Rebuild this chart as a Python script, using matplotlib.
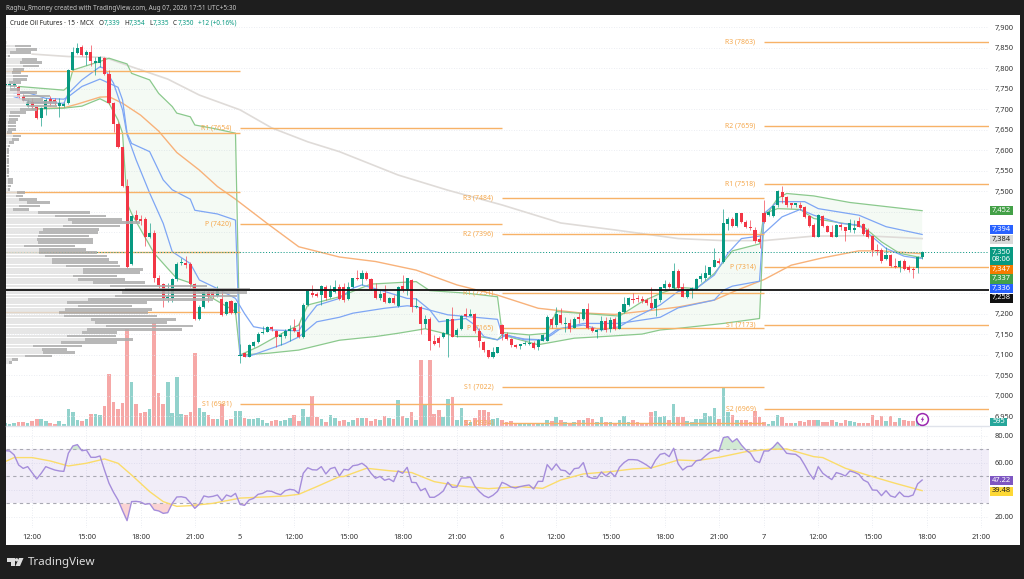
import matplotlib
matplotlib.use("Agg")
import matplotlib.pyplot as plt
from matplotlib.patches import Rectangle, Polygon, Ellipse
import numpy as np

plt.rcParams['font.family'] = ['Noto Sans', 'DejaVu Sans']

# 15 min candles, bar 0 is the 9:00 bar of the 5th
first_bar = -52
opens = [7755,7756,7756,7753,7732,7707,7716,7706,7677,7699,
         7724,7722,7707,7707,7714,7795,7836,7852,7832,7840,
         7812,7812,7824,7786,7714,7664,7607,7512,7322,7441,
         7431,7432,7389,7397,7287,7272,7238,7238,7285,7324,
         7325,7322,7272,7187,7216,7254,7254,7244,7236,7199,
         7232,7203,
         7098,7104,7096,7122,7131,7153,7157,7169,7159,7143,
         7147,7159,7165,7157,7143,7222,7252,7249,7246,7267,
         7241,7254,7267,7267,7236,7265,7289,7285,7301,7285,
         7260,7238,7250,7228,7238,7220,7268,7260,7283,7216,
         7216,7175,7189,7135,7141,7143,7151,7187,7149,7163,
         7199,7195,7200,7159,7131,7111,7094,7106,
         7173,7150,7139,7124,7122,7126,7128,7130,7119,7135,
         7134,7189,7173,7198,7176,7179,7167,7192,7187,7211,
         7167,7155,7161,7184,7163,7187,7164,7204,7222,7236,
         7238,7236,7234,7226,7214,7233,7263,7273,7263,7306,
         7265,7242,7260,7260,7285,7287,7295,7315,7330,7328,
         7419,7431,7415,7446,7425,7413,7405,7383,
         7446,7441,7439,7466,7497,7485,7470,7467,7467,7460,
         7439,7417,7389,7439,7415,7399,7389,7417,7411,7406,
         7406,7427,7419,7406,7390,7356,7356,7333,7344,7317,
         7315,7330,7315,7309,7311,7339]
highs = [7763,7764,7767,7756,7737,7724,7726,7707,7704,7726,
         7732,7728,7726,7716,7797,7852,7860,7855,7844,7856,
         7828,7829,7826,7794,7716,7669,7608,7529,7442,7454,
         7441,7437,7421,7405,7295,7275,7275,7287,7328,7336,
         7341,7328,7275,7222,7262,7258,7262,7268,7258,7232,
         7234,7230,
         7126,7106,7127,7133,7157,7171,7171,7171,7161,7154,
         7163,7173,7189,7177,7226,7257,7271,7254,7271,7271,
         7271,7284,7272,7276,7279,7289,7307,7307,7305,7287,
         7275,7259,7271,7242,7246,7268,7295,7289,7285,7238,
         7220,7198,7192,7149,7146,7157,7189,7216,7165,7198,
         7214,7212,7202,7165,7133,7112,7120,7120,
         7176,7157,7141,7126,7128,7133,7149,7133,7138,7151,
         7198,7193,7218,7214,7193,7187,7192,7202,7211,7228,
         7171,7163,7195,7192,7192,7192,7208,7242,7242,7252,
         7246,7244,7238,7267,7238,7267,7283,7279,7324,7310,
         7275,7260,7267,7287,7299,7320,7315,7360,7336,7455,
         7437,7437,7447,7447,7429,7429,7411,7393,
         7478,7452,7466,7502,7511,7488,7471,7471,7474,7463,
         7441,7421,7444,7441,7417,7417,7419,7421,7413,7431,
         7429,7437,7421,7409,7393,7371,7360,7364,7346,7336,
         7332,7333,7319,7314,7341,7354]
lows = [7751,7753,7753,7724,7716,7704,7699,7675,7659,7685,
        7707,7710,7681,7704,7712,7795,7834,7830,7807,7806,
        7783,7803,7784,7712,7645,7605,7510,7312,7320,7425,
        7417,7366,7385,7279,7263,7218,7230,7230,7281,7320,
        7311,7267,7185,7185,7214,7230,7238,7242,7195,7197,
        7200,7201,
        7080,7094,7096,7120,7130,7151,7155,7159,7119,7124,
        7141,7135,7157,7141,7141,7220,7242,7242,7222,7234,
        7238,7250,7233,7230,7233,7263,7284,7271,7283,7259,
        7236,7234,7228,7226,7224,7216,7254,7246,7206,7214,
        7151,7167,7111,7124,7119,7141,7096,7145,7145,7161,
        7193,7195,7153,7120,7108,7092,7092,7104,
        7137,7137,7120,7118,7114,7124,7124,7114,7111,7133,
        7133,7167,7169,7176,7157,7157,7165,7179,7185,7163,
        7155,7141,7159,7157,7157,7161,7163,7202,7220,7226,
        7230,7228,7222,7211,7195,7230,7260,7263,7260,7260,
        7241,7240,7238,7258,7279,7283,7293,7314,7322,7325,
        7405,7413,7411,7423,7409,7405,7374,7362,
        7421,7439,7437,7462,7470,7462,7458,7460,7454,7435,
        7413,7387,7387,7413,7399,7387,7387,7406,7379,7401,
        7397,7411,7393,7385,7342,7344,7325,7332,7314,7311,
        7303,7307,7303,7289,7301,7335]
closes = [7761,7761,7761,7730,7722,7718,7704,7677,7702,7722,
          7718,7716,7714,7712,7795,7840,7850,7832,7840,7816,
          7818,7826,7786,7714,7664,7607,7512,7315,7440,7429,
          7427,7389,7397,7287,7271,7238,7242,7285,7322,7328,
          7320,7273,7187,7216,7254,7241,7246,7259,7197,7230,
          7203,7226,
          7101,7096,7124,7131,7151,7157,7169,7163,7143,7149,
          7159,7163,7159,7143,7222,7256,7246,7244,7268,7238,
          7257,7267,7236,7234,7267,7287,7285,7301,7285,7260,
          7238,7249,7230,7238,7226,7267,7260,7287,7218,7220,
          7175,7187,7135,7127,7130,7153,7187,7145,7161,7195,
          7195,7199,7159,7133,7111,7096,7108,7119,
          7151,7139,7124,7120,7126,7130,7130,7116,7137,7149,
          7193,7173,7200,7177,7179,7163,7189,7189,7211,7165,
          7159,7161,7184,7161,7185,7163,7206,7224,7238,7234,
          7236,7232,7228,7215,7236,7265,7273,7265,7306,7263,
          7242,7258,7263,7285,7293,7301,7314,7332,7325,7421,
          7431,7415,7446,7425,7411,7409,7379,7375,
          7424,7450,7463,7501,7485,7466,7467,7470,7459,7437,
          7415,7389,7441,7415,7401,7389,7417,7411,7402,7423,
          7409,7413,7395,7389,7356,7354,7330,7344,7318,7315,
          7330,7309,7307,7307,7338,7350]
volumes = [2.7,2,2.7,4.3,4.3,2.7,4.7,6.7,7,5,3,1.7,5.3,2,16.7,14,5.7,5,6.7,12.3,
           12,10.7,19.7,52,24,16.7,22.7,97,44,22,13,14,17,103,33,22,44,13,49,12,
           11,14,73,18,14,11,6.7,7.3,22,6,7.3,15,
           15,7.7,7,7,8,6,2.7,5,6,4.7,5.7,7.7,11,5,17,9.3,30,8.7,7.3,4,
           11,8.3,5.3,6.3,4,5.7,7.7,7.7,8.3,5.3,7.3,5.7,9.7,8,6.7,25.7,10.3,8,14.3,6.3,
           66,21.3,66,12.3,16.3,9,27.3,29.3,6.3,18,5.7,4,8,15.7,16.3,14,7.3,8,
           5.7,3.7,4.7,3.3,2.3,2.3,2.3,2.7,3,2.3,6.3,5.3,8.7,5.7,4,3,3.7,6.3,5.7,8.3,
           7,3.7,9.3,4,3.7,2.3,5.7,10.3,4.3,6.3,4.3,2.7,2.7,13.7,15,9,10.3,5.7,22.3,9,
           8.7,5.3,4.3,6.7,7.3,13.3,10.3,18.3,7.3,39.3,13.7,11.3,6.3,6,5.7,3.7,15.3,9.3,
           4.3,1.7,5.3,11.3,9.3,2.7,2.7,3,5,3.7,6.3,5.7,5.7,4.3,4.3,6,4,2.7,6.3,5,
           3.7,2.7,3.3,3.3,11.3,6.3,10.3,5,10.3,3.7,7.7,5.7,5.3,5.3,5.3,7]
rsi_vals = [69.1,68.9,66,58.5,56,57.3,52.8,48.2,52.4,57.3,56,54.8,54.1,53.8,67.2,72.6,73.6,69.1,69.6,64.2,
            64.2,65.2,54.8,45,38.3,32.6,24.7,17.3,31.4,31.6,31.1,29.4,29.9,25.2,24.5,22.7,23.2,30.1,34.8,35,
            34.3,30.6,26.4,29.6,35.6,34.8,35.3,36.3,32.1,36.3,35.1,37.5,
            29.4,28.6,32.6,33.8,36.8,37.5,39.3,39,37.5,36.5,39.5,40.5,40,37.5,52.4,56.5,55,54.8,57.3,51.9,
            55.8,56.8,50.4,55.3,54.8,58,58.5,59.8,57.3,52.4,48.7,50.1,47.2,48.2,46.2,54.1,52.4,56.8,45.7,45.4,
            39.5,41.2,34.6,34.6,36.6,39.3,45.7,42,42.2,48.9,48.9,49.4,42.7,38.8,35.8,34.3,36.1,39,
            45.7,44.2,42.2,41.5,42.5,43.2,43.7,40.8,46.4,46.4,58.8,54.8,59.3,54.8,54.3,51.4,55.8,56.3,60.3,49.9,
            48.7,48.7,53.3,50.4,53.3,49.9,56.8,60.3,62.5,62.5,62.2,60.5,58.5,56.1,62.2,66.4,67.2,64.7,70.9,59.3,
            54.8,57.3,57.8,61.7,62.2,65.2,67.9,69.6,68.7,78.8,79.5,75.6,78,73.3,69.6,67.2,61.7,60.3,
            68.9,68.9,71.6,75.3,71.6,67.2,66.7,66.4,64,58.5,52.4,47.9,57.3,52.4,49.9,47.7,52.9,51.9,50.4,54.1,
            53.1,51.6,47.4,45.7,40,39.8,35.8,39.5,35.6,34.6,38.5,35.3,35.1,36.3,44.5,47.4]

# rsi moving average
rsi_ma_bars = [-52,-50,-46,-42,-38,-34,-30,-27,-24,-20,-17,-14,-11,-6,0,4,10,13,17,22,23,28,33,38,43,48,55,62,67,71,
               76,82,87,91,97,101,106,112,117,121,127,129,134,140,145,151]
rsi_ma_vals = [61,64,64,61.5,57.8,59.8,63,59.8,51.1,38.8,31.4,27.9,28.4,30.1,34,34.6,35.6,36.8,42.5,49.9,50,56.1,54.3,52.9,46.2,43.2,41,42.5,41.2,47.4,
               51.9,53.6,55.6,56.3,62.2,61.7,64.2,68.4,70.1,70.4,64.7,64,56.1,49.9,45,39.5]

# overlays on the price pane
sma_bars = [-46,-38,-30,-24,-16,-9,0,7,15,22,35,46,58,71,83,97,107,116,127,138,151]
sma_vals = [7834,7828,7826,7803,7773,7734,7698,7654,7620,7596,7539,7502,7466,7422,7405,7384,7379,7379,7390,7391,7384]
ema_slow_bars = [-46,-39,-36,-31,-29,-26,-22,-18,-14,-9,-5,-1,6,13,22,30,39,48,57,66,75,83,92,97,105,110,116,122,129,137,142,151]
ema_slow_vals = [7700,7703,7712,7729,7730,7714,7685,7646,7594,7551,7511,7480,7421,7364,7339,7328,7307,7271,7246,7214,7203,7199,7210,7217,7234,7258,7284,7319,7337,7354,7354,7347]
upper_bars = [-49,-39,-38,-37,-31,-29,-25,-24,-20,-18,-15,-14,-11,-10,-6,-1,
              0,4,10,13,15,22,29,39,42,50,57,
              58,64,68,70,75,84,89,93,97,101,105,107,109,115,
              116,117,119,121,127,135,151]
upper_vals = [7755,7746,7755,7795,7816,7824,7810,7787,7771,7738,7706,7690,7681,7661,7653,7641,
              7100,7120,7157,7173,7222,7242,7273,7279,7257,7251,7242,
              7155,7149,7153,7206,7202,7195,7230,7250,7265,7262,7299,7327,7354,7371,
              7445,7449,7482,7494,7488,7472,7452]
lower_bars = [-46,-39,-35,-31,-29,-27,-26,-25,-24,-19,-16,-14,-11,-10,-6,-1,
              0,6,13,22,30,35,41,48,53,57,
              58,66,74,82,89,93,97,107,115,
              116,119,124,127,138,142,146,151]
lower_vals = [7700,7702,7707,7725,7714,7673,7641,7470,7445,7348,7311,7287,7276,7258,7238,7206,
              7100,7104,7112,7136,7145,7153,7164,7145,7145,7137,
              7149,7125,7141,7146,7151,7161,7165,7177,7189,
              7445,7457,7455,7433,7413,7376,7348,7337]
vwap_bars = [-50,-47,-43,-39,-38,-35,-31,-27,-26,-25,-24,-20,-17,-15,-11,-10,-5,-1,
             0,2,10,13,17,22,25,32,37,39,46,57,
             58,63,67,70,76,84,93,97,105,107,109,115,
             116,119,125,128,137,143,151]
vwap_vals = [7738,7740,7726,7724,7730,7755,7773,7753,7722,7641,7616,7596,7527,7503,7480,7453,7444,7429,
             7100,7097,7128,7144,7181,7192,7202,7214,7220,7218,7198,7187,
             7149,7139,7137,7161,7177,7177,7192,7215,7234,7258,7268,7280,
             7445,7474,7474,7457,7441,7413,7394]
ema_fast_bars = [-50,-46,-39,-38,-35,-31,-30,-28,-26,-25,-23,-20,-17,-15,-11,-9,-5,-1,
                 1,3,7,13,15,17,22,25,27,32,37,39,42,44,47,50,52,54,57,59,63,67,69,71,76,80,84,87,93,97,
                 101,105,108,111,115,116,120,124,127,133,137,139,143,147,150,151]
ema_fast_vals = [7730,7716,7714,7738,7771,7803,7799,7763,7698,7637,7576,7495,7421,7352,7323,7283,7262,7238,
                 7201,7169,7161,7159,7193,7221,7238,7263,7271,7255,7238,7237,7210,7181,7185,7189,7173,7145,7137,7149,7137,7137,7149,7165,7173,7161,7169,7189,7222,7255,
                 7262,7295,7348,7384,7390,7397,7437,7455,7441,7421,7417,7397,7360,7341,7336,7336]

# daily pivots, day boundaries in bars
day_starts = [-52, 0, 58, 116]
day_ends = [0, 58, 116, 166]
pivot_levels = [[7793, 7642, 7497, 7350, 7204],
                [7654, 7420, 6981],
                [7484, 7396, 7251, 7165, 7022, 6934],
                [7863, 7659, 7518, 7314, 7173, 6969]]
pivot_names = [[],
               ['R1', 'P', 'S1'],
               ['R3', 'R2', 'R1', 'P', 'S1', 'S2'],
               ['R3', 'R2', 'R1', 'P', 'S1', 'S2']]

# 7,250 to 7,450 sit behind the value tags
price_ticks = [6950,7000,7050,7100,7150,7200,7500,7550,7600,7650,7700,7750,7800,7850,7900]
grid_prices = list(range(6950, 7901, 50))
time_ticks = [-46,-34,-22,-10,0,12,24,36,48,58,70,82,94,106,116,128,140,152,164]
time_labels = ['12:00','15:00','18:00','21:00','5','12:00','15:00','18:00','21:00','6',
               '12:00','15:00','18:00','21:00','7','12:00','15:00','18:00','21:00']

# volume profile rows from top to bottom: buy part, total
profile_top = 7862
profile_bottom = 7081
profile_light = [1,9,10,4,2,16,14,17,7,6,7,7,3,4,4,14,17,16,21,21,14,4,3,3,2,2,2,1,7,6,3,2,1,1,1,1,1,1,1,1,1,2,2,2,2,11,10,
                 13,21,13,7,32,49,62,66,57,37,33,32,31,32,18,33,33,39,46,46,60,77,77,67,72,87,104,119,116,109,82,61,72,59,53,58,85,89,100,81,76,61,79,55,27,36,37,19,6,3]
profile_total = [1,25,31,25,4,31,36,33,18,15,22,21,15,11,14,31,44,37,51,51,31,20,14,12,10,10,10,6,15,13,8,4,3,3,3,3,3,3,3,3,3,7,7,5,4,19,17,
                 31,44,34,23,84,100,116,134,114,93,92,83,87,87,69,80,91,101,103,112,114,137,134,111,119,139,201,244,241,231,207,141,126,146,142,151,170,161,187,176,111,110,127,111,76,61,69,46,12,6]

GREEN = '#089981'
RED = '#f23645'
PIVOT = '#f7b267'
AXIS_TEXT = '#333333'
SMALL = 5.0
AXIS_SIZE = 5.4
W, H = 1024, 579


def axes_box(left, top, right, bottom):
    return [left / W, 1 - bottom / H, (right - left) / W, (bottom - top) / H]


fig = plt.figure(figsize=(W / 100, H / 100), dpi=100, facecolor='#1e1e1e')
fig.patches.append(Rectangle((6 / W, 1 - 545 / H), 1014 / W, 530 / H, transform=fig.transFigure,
                             facecolor='white', edgecolor='none', zorder=-1))

bars = np.arange(first_bar, first_bar + len(closes))
opens, highs, lows, closes = map(np.array, (opens, highs, lows, closes))
up = closes >= opens
x_range = (-51.8, 165.8)

# volume sits under the candles
ax = fig.add_axes(axes_box(6, 15, 989, 426))
vol = ax.twinx()
prof = ax.twiny()
ax.set_zorder(2)
vol.set_zorder(1)
prof.set_zorder(3)
ax.patch.set_visible(False)
prof.patch.set_visible(False)
vol.patch.set_facecolor('white')

vol.bar(bars[up], np.array(volumes)[up], width=0.8, color='#26a69a', alpha=0.5)
vol.bar(bars[~up], np.array(volumes)[~up], width=0.8, color='#ef5350', alpha=0.5)
vol.set_ylim(0, 411)
vol.set_yticks([])
vol.set_xticks(time_ticks)
vol.grid(axis='x', color='#e4e7ee', lw=0.6, ls=(0, (1, 2)))
vol.tick_params(length=0, labelbottom=False)

ax.set_xlim(*x_range)
ax.set_ylim(6926.8, 7929.3)
ax.yaxis.tick_right()
ax.set_yticks(price_ticks)
ax.set_yticklabels([f'{p:,}' for p in price_ticks], fontsize=AXIS_SIZE, color=AXIS_TEXT)
ax.set_xticks(time_ticks)
ax.tick_params(length=0, labelbottom=False, pad=4)
ax.hlines(grid_prices, *x_range, color='#e4e7ee', lw=0.6, ls=(0, (1, 2)), zorder=0.5)

for a in (ax, vol, prof):
    for s in a.spines.values():
        s.set_visible(False)

# bands, one fill per session
up_b, up_v = np.array(upper_bars), np.array(upper_vals)
lo_b, lo_v = np.array(lower_bars), np.array(lower_vals)
for start, end in zip(day_starts, day_ends):
    m1 = (up_b >= start) & (up_b < end)
    m2 = (lo_b >= start) & (lo_b < end)
    ax.fill(np.r_[up_b[m1], lo_b[m2][::-1]], np.r_[up_v[m1], lo_v[m2][::-1]],
            color='#4caf50', alpha=0.06, lw=0, zorder=1)
ax.plot(sma_bars, sma_vals, color='#dfdbd8', lw=1.2, zorder=2)
ax.plot(ema_slow_bars, ema_slow_vals, color='#f8b27a', lw=1, zorder=2)
ax.plot(upper_bars, upper_vals, color='#8bc98d', lw=0.9, zorder=2)
ax.plot(lower_bars, lower_vals, color='#8bc98d', lw=0.9, zorder=2)
ax.plot(vwap_bars, vwap_vals, color='#7ea6f4', lw=0.9, zorder=2)
ax.plot(ema_fast_bars, ema_fast_vals, color='#7ea6f4', lw=0.9, zorder=2)

# pivots
for start, end, levels, names in zip(day_starts, day_ends, pivot_levels, pivot_names):
    ax.hlines(levels, start, end, color=PIVOT, lw=1, zorder=2)
    for name, level in zip(names, levels):
        ax.text(start - 1.9, level, f'{name} ({level})', color='#f5a94f', fontsize=SMALL,
                ha='right', va='center', zorder=2.5)

# candles
colors = np.where(up, GREEN, RED)
ax.vlines(bars, lows, highs, color=colors, lw=0.7, alpha=0.65, zorder=3)
ax.bar(bars, np.maximum(np.abs(closes - opens), 1.5), bottom=np.minimum(opens, closes),
       width=0.68, color=colors, zorder=4)
ax.axhline(closes[-1], color=GREEN, lw=0.7, ls=(0, (1, 2)), zorder=2)

# profile goes over the candles, x in its own units
rows = np.linspace(profile_top, profile_bottom, len(profile_total))
light = np.array(profile_light)
total = np.array(profile_total)
prof.barh(rows, light, height=6.7, color='#e0e0e0', alpha=0.8)
prof.barh(rows, total - light, left=light, height=6.7, color='#acacac', alpha=0.85)
prof.set_xlim(0, 983)
prof.set_xticks([])
prof.axhline(7258, color='#111111', lw=1.3)

# flash icon
prof.plot([916], [6944], marker='o', ms=8.5, mfc='white', mec='#9c27b0', mew=1.1, zorder=6)
bolt = [(0.3, 1), (-0.5, -0.1), (-0.05, -0.1), (-0.3, -1), (0.5, 0.2), (0.05, 0.2)]
prof.plot([916], [6944], marker=bolt, ms=5, mfc='#9c27b0', mec='none', zorder=7)

# rsi pane
rsi = fig.add_axes(axes_box(6, 426, 989, 528))
rsi.set_zorder(2)
rsi_arr = np.array(rsi_vals)
rsi.axhspan(30, 70, color='#7e57c2', alpha=0.1, lw=0)
rsi.fill_between(bars, rsi_arr, 30, where=rsi_arr < 30, interpolate=True, color='#ef5350', alpha=0.25, lw=0)
rsi.fill_between(bars, rsi_arr, 70, where=rsi_arr > 70, interpolate=True, color='#4caf50', alpha=0.25, lw=0)
for level in (30, 50, 70):
    rsi.axhline(level, color='#a9a9b3', lw=0.8, ls=(0, (3, 3)))
rsi.plot(rsi_ma_bars, rsi_ma_vals, color='#fbdc6a', lw=1)
rsi.plot(bars, rsi_arr, color='#a58ddb', lw=1)
rsi.set_xlim(*x_range)
rsi.set_ylim(11.85, 87.4)
rsi.yaxis.tick_right()
rsi.set_yticks([20, 40, 60, 80])
rsi.set_yticklabels(['20.00', '', '60.00', '80.00'], fontsize=AXIS_SIZE, color=AXIS_TEXT)
rsi.set_xticks(time_ticks)
rsi.set_xticklabels(time_labels, fontsize=AXIS_SIZE, color=AXIS_TEXT)
rsi.tick_params(length=0, pad=4)
rsi.grid(color='#e4e7ee', lw=0.6, ls=(0, (1, 2)))
rsi.set_axisbelow(True)
for s in rsi.spines.values():
    s.set_visible(False)
rsi.plot([0, 1], [1, 1], transform=rsi.transAxes, color='#e0e3eb', lw=1, clip_on=False)


# header, legend and footer
def fig_text(x, y, s, **kw):
    kw.setdefault('fontsize', SMALL)
    kw.setdefault('va', 'center')
    kw.setdefault('zorder', 30)
    return fig.text(x / W, 1 - y / H, s, **kw)


fig_text(6, 8, 'Raghu_Rmoney created with TradingView.com, Aug 07, 2026 17:51 UTC+5:30', color='#c8c8c8', fontsize=4.6)
fig_text(10, 23.5, 'Crude Oil Futures · 15 · MCX', color='#222222', fontsize=4.6)
for x, s, c in [(99, 'O', '#222222'), (103.5, '7,339', GREEN), (124, 'H', '#222222'), (128.5, '7,354', GREEN),
                (149, 'L', '#222222'), (152.5, '7,335', GREEN), (173, 'C', '#222222'), (177.5, '7,350', GREEN),
                (198, '+12 (+0.16%)', GREEN)]:
    fig_text(x, 23.5, s, color=c, fontsize=4.6)

# right side value tags: label, centre row, height, colours
tags = [('7,452', 210.7, 9, '#43a047', 'white'), ('7,384', 239, 9, '#d9d9d9', '#222222'), ('7,394', 229.5, 9, '#2962ff', 'white'),
        ('7,258', 298, 9, '#111111', 'white'), ('7,336', 288.3, 9, '#2962ff', 'white'), ('7,337', 279, 9, '#43a047', 'white'),
        ('7,347', 269.3, 9, '#f57c00', 'white'), ('7,350\n08:06', 256, 17, GREEN, 'white'),
        ('47.22', 480.7, 9, '#7e57c2', 'white'), ('39.48', 491, 9, '#fdd835', '#222222')]
for n, (label, y, h, bg, fg) in enumerate(tags):
    fig.patches.append(Rectangle((990 / W, 1 - (y + h / 2) / H), 23 / W, h / H, transform=fig.transFigure,
                                 facecolor=bg, edgecolor='none', zorder=10 + n))
    fig_text(1001.5, y, label, color=fg, ha='center', linespacing=1.15, fontsize=AXIS_SIZE, zorder=10.5 + n)
fig.patches.append(Rectangle((990 / W, 1 - 426 / H), 17 / W, 8.5 / H, transform=fig.transFigure,
                             facecolor='#26a69a', edgecolor='none', zorder=10))
fig_text(998.5, 421.7, '595', color='white', ha='center', fontsize=AXIS_SIZE, zorder=10.5)


def px_poly(points, **kw):
    pts = [(x / W, 1 - y / H) for x, y in points]
    fig.patches.append(Polygon(pts, closed=True, transform=fig.transFigure, **kw))


px_poly([(7, 558), (14.5, 558), (14.5, 566), (10.5, 566), (10.5, 561.5), (7, 561.5)], facecolor='#dddddd', edgecolor='none')
px_poly([(19, 558), (23.5, 558), (20, 566), (15.5, 566)], facecolor='#dddddd', edgecolor='none')
fig.patches.append(Ellipse((16.6 / W, 1 - 559.8 / H), 3.4 / W, 3.4 / H, transform=fig.transFigure,
                           facecolor='#dddddd', edgecolor='none'))
fig_text(28, 562, 'TradingView', color='#dddddd', fontsize=8.3, fontweight='medium')

fig.savefig('out.png', dpi=100, facecolor=fig.get_facecolor())
